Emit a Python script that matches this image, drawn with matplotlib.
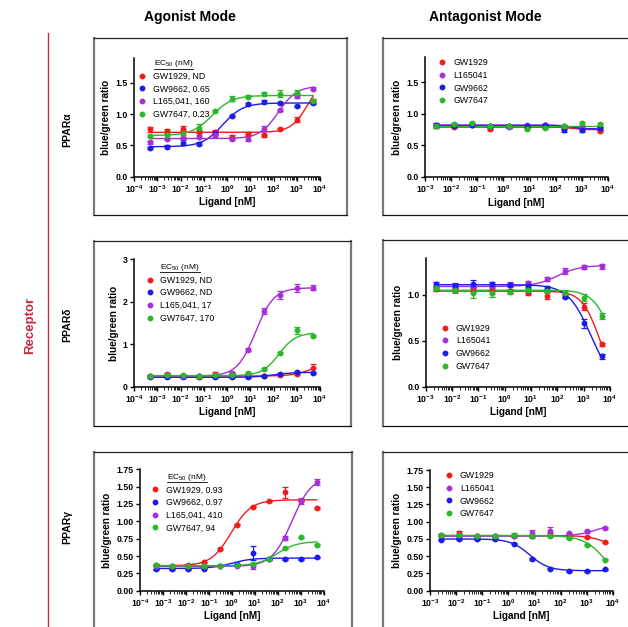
import numpy as np
import matplotlib
matplotlib.use("Agg")
import matplotlib.pyplot as plt
from matplotlib.lines import Line2D
from matplotlib.ticker import LogLocator, FixedLocator, NullFormatter

plt.rcParams["font.family"] = ["Liberation Sans", "DejaVu Sans"]
plt.rcParams["mathtext.fontset"] = "custom"
plt.rcParams["mathtext.rm"] = "Liberation Sans"
plt.rcParams["mathtext.bf"] = "Liberation Sans:bold"
plt.rcParams["mathtext.it"] = "Liberation Sans:italic"

# ligand concentrations (nM), 5-fold dilution series
conc_ag = [5.12e-4, 2.56e-3, 0.0128, 0.064, 0.32, 1.6, 8, 40, 200, 1000, 5000]
conc_antag = [2.56e-3, 0.0128, 0.064, 0.32, 1.6, 8, 40, 200, 1000, 5000]

colors = {"GW1929": "#f01c1c", "GW9662": "#1c1ce8", "L165041": "#a62ed8", "GW7647": "#2ab82a"}

# ---- PPARa agonist ----
a_ag_labels = ["GW1929, ND", "GW9662, 0.65", "L165,041, 160", "GW7647, 0.23"]
a_ag_gw1929 = [0.76, 0.73, 0.77, 0.72, 0.72, 0.64, 0.68, 0.66, 0.76, 0.91, 1.21]
a_ag_gw9662 = [0.46, 0.48, 0.54, 0.53, 0.70, 0.97, 1.16, 1.20, 1.18, 1.13, 1.18]
a_ag_l165 = [0.55, 0.60, 0.62, 0.64, 0.66, 0.61, 0.61, 0.77, 1.07, 1.29, 1.41]
a_ag_gw7647 = [0.65, 0.66, 0.70, 0.78, 1.05, 1.25, 1.28, 1.33, 1.33, 1.34, 1.21]
a_ag_err = [[0.04, 0.04, 0.04, 0.02, 0.02, 0.03, 0.02, 0.02, 0.02, 0.04, 0.03],
            [0.02, 0.02, 0.04, 0.02, 0.03, 0.02, 0.02, 0.02, 0.02, 0.02, 0.02],
            [0.02, 0.02, 0.02, 0.02, 0.02, 0.02, 0.04, 0.04, 0.02, 0.03, 0.02],
            [0.02, 0.04, 0.04, 0.07, 0.02, 0.04, 0.02, 0.02, 0.06, 0.04, 0.04]]
a_ag_fit = [(0.71, 1.60, 3000, 1.2), (0.48, 1.18, 0.65, 1.0),
            (0.61, 1.45, 160, 1.1), (0.66, 1.30, 0.23, 1.0)]

# ---- PPARa antagonist ----
a_an_labels = ["GW1929", "L165041", "GW9662", "GW7647"]
a_an_gw1929 = [0.80, 0.79, 0.82, 0.76, 0.80, 0.79, 0.79, 0.79, 0.77, 0.73]
a_an_l165 = [0.82, 0.83, 0.83, 0.81, 0.79, 0.82, 0.82, 0.81, 0.77, 0.77]
a_an_gw9662 = [0.83, 0.81, 0.82, 0.81, 0.80, 0.81, 0.82, 0.74, 0.75, 0.77]
a_an_gw7647 = [0.80, 0.84, 0.85, 0.80, 0.81, 0.76, 0.78, 0.80, 0.85, 0.84]
a_an_err = [[0.02] * 10, [0.02] * 10, [0.03, 0.02, 0.02, 0.02, 0.02, 0.02, 0.02, 0.02, 0.03, 0.02], [0.02] * 10]
a_an_fit = [(0.79, 0.75, 400, 2.0), (0.82, 0.76, 400, 2.0),
            (0.82, 0.76, 400, 2.0), (0.81, 0.81, 1, 1.0)]

# ---- PPARd agonist ----
d_ag_labels = ["GW1929, ND", "GW9662, ND", "L165,041, 17", "GW7647, 170"]
d_ag_gw1929 = [0.26, 0.30, 0.26, 0.25, 0.31, 0.30, 0.27, 0.26, 0.27, 0.30, 0.44]
d_ag_gw9662 = [0.23, 0.23, 0.22, 0.23, 0.22, 0.23, 0.22, 0.25, 0.31, 0.35, 0.32]
d_ag_l165 = [0.25, 0.27, 0.26, 0.26, 0.28, 0.33, 0.87, 1.78, 2.16, 2.33, 2.33]
d_ag_gw7647 = [0.26, 0.27, 0.27, 0.26, 0.27, 0.27, 0.33, 0.42, 0.79, 1.33, 1.19]
d_ag_err = [[0.02, 0.03, 0.02, 0.02, 0.03, 0.02, 0.02, 0.02, 0.02, 0.02, 0.09],
            [0.02] * 11,
            [0.02, 0.02, 0.02, 0.02, 0.02, 0.02, 0.03, 0.07, 0.09, 0.09, 0.06],
            [0.02, 0.02, 0.02, 0.02, 0.02, 0.02, 0.02, 0.02, 0.03, 0.08, 0.03]]
d_ag_fit = [(0.25, 0.60, 5000, 1.0), (0.22, 0.34, 100, 1.0),
            (0.25, 2.33, 17, 1.1), (0.26, 1.27, 170, 1.2)]

# ---- PPARd antagonist ----
d_an_labels = ["GW1929", "L165041", "GW9662", "GW7647"]
d_an_gw1929 = [1.06, 1.05, 1.05, 1.04, 1.04, 1.02, 0.99, 0.99, 0.87, 0.46]
d_an_l165 = [1.08, 1.09, 1.10, 1.10, 1.11, 1.13, 1.17, 1.26, 1.30, 1.31]
d_an_gw9662 = [1.12, 1.10, 1.12, 1.12, 1.11, 1.10, 1.07, 0.98, 0.69, 0.33]
d_an_gw7647 = [1.07, 1.05, 1.02, 1.02, 1.03, 1.05, 1.04, 1.02, 0.97, 0.77]
d_an_err = [[0.02, 0.02, 0.02, 0.03, 0.02, 0.02, 0.04, 0.02, 0.04, 0.02],
            [0.02, 0.02, 0.02, 0.02, 0.03, 0.02, 0.02, 0.03, 0.02, 0.03],
            [0.02, 0.03, 0.04, 0.02, 0.02, 0.03, 0.02, 0.02, 0.05, 0.03],
            [0.02, 0.03, 0.05, 0.04, 0.02, 0.03, 0.02, 0.03, 0.04, 0.03]]
d_an_fit = [(1.04, 0.0, 4000, 1.3), (1.09, 1.32, 100, 1.0),
            (1.11, 0.0, 1900, 1.0), (1.05, 0.0, 13000, 1.2)]

# ---- PPARg agonist ----
g_ag_labels = ["GW1929, 0.93", "GW9662, 0.97", "L165,041, 410", "GW7647, 94"]
g_ag_gw1929 = [0.37, 0.36, 0.37, 0.41, 0.60, 0.95, 1.21, 1.29, 1.42, 1.30, 1.19]
g_ag_gw9662 = [0.31, 0.31, 0.31, 0.32, 0.36, 0.38, 0.54, 0.45, 0.45, 0.45, 0.48]
g_ag_l165 = [0.36, 0.36, 0.36, 0.36, 0.36, 0.36, 0.35, 0.45, 0.76, 1.29, 1.57]
g_ag_gw7647 = [0.37, 0.36, 0.36, 0.36, 0.36, 0.37, 0.39, 0.45, 0.61, 0.77, 0.66]
g_ag_err = [[0.01, 0.01, 0.01, 0.01, 0.01, 0.01, 0.01, 0.01, 0.08, 0.01, 0.01],
            [0.01, 0.01, 0.01, 0.01, 0.01, 0.01, 0.10, 0.01, 0.01, 0.01, 0.01],
            [0.01, 0.01, 0.01, 0.01, 0.01, 0.01, 0.03, 0.01, 0.03, 0.04, 0.04],
            [0.01] * 11]
g_ag_fit = [(0.36, 1.31, 0.93, 1.0), (0.32, 0.47, 0.97, 1.0),
            (0.35, 1.65, 410, 1.0), (0.36, 0.71, 94, 1.0)]

# ---- PPARg antagonist ----
g_an_labels = ["GW1929", "L165041", "GW9662", "GW7647"]
g_an_gw1929 = [0.81, 0.83, 0.80, 0.80, 0.80, 0.80, 0.82, 0.80, 0.78, 0.70]
g_an_l165 = [0.80, 0.79, 0.79, 0.79, 0.80, 0.83, 0.86, 0.83, 0.86, 0.91]
g_an_gw9662 = [0.74, 0.75, 0.75, 0.75, 0.68, 0.46, 0.32, 0.28, 0.28, 0.31]
g_an_gw7647 = [0.81, 0.81, 0.80, 0.80, 0.81, 0.79, 0.79, 0.76, 0.66, 0.45]
g_an_err = [[0.01, 0.04, 0.01, 0.01, 0.01, 0.01, 0.02, 0.01, 0.01, 0.01],
            [0.01, 0.01, 0.01, 0.01, 0.01, 0.05, 0.06, 0.01, 0.02, 0.01],
            [0.01, 0.02, 0.02, 0.01, 0.01, 0.01, 0.01, 0.01, 0.01, 0.01],
            [0.01, 0.01, 0.01, 0.01, 0.03, 0.02, 0.01, 0.01, 0.01, 0.01]]
g_an_fit = [(0.80, 0.0, 35000, 1.0), (0.79, 1.0, 3000, 1.0),
            (0.75, 0.29, 6.5, 1.2), (0.80, 0.0, 6400, 1.0)]

W, H = 628, 627
fig = plt.figure(figsize=(W / 100, H / 100), dpi=100)


def px_rect(left, top, right, bottom):
    return [left / W, 1 - bottom / H, (right - left) / W, (bottom - top) / H]


def sigmoid(x, start, end, mid, hill):
    return start + (end - start) / (1 + (mid / x) ** hill)


def draw_frame(left, top, right, bottom):
    x0, x1 = left / W, right / W
    y0, y1 = 1 - bottom / H, 1 - top / H
    fig.add_artist(Line2D([x0, x0], [y0, y1], color="#777777", lw=1.6, transform=fig.transFigure))
    fig.add_artist(Line2D([x1, x1], [y0, y1], color="#777777", lw=1.6, transform=fig.transFigure))
    fig.add_artist(Line2D([x0, x1], [y1, y1], color="#222222", lw=0.9, transform=fig.transFigure))
    fig.add_artist(Line2D([x0, x1], [y0, y0], color="#111111", lw=0.9, transform=fig.transFigure))


def panel(rect, conc, series, errs, fits, names, labels, xmin, ylim, yticks, yfmt,
          leg_anchor, leg_title=None):
    ax = fig.add_axes(rect)
    xs = np.logspace(np.log10(conc[0]), np.log10(conc[-1]), 300)
    for ys, er, fp, nm in zip(series, errs, fits, names):
        c = colors[nm]
        ax.plot(xs, sigmoid(xs, *fp), color=c, lw=1.0)
        ax.errorbar(conc, ys, yerr=er, fmt="o", ms=3.2, color=c, ecolor=c,
                    elinewidth=0.9, capsize=2.2, capthick=0.9)
    ax.set_xscale("log")
    ax.set_xlim(xmin, 1e4)
    ax.set_ylim(*ylim)
    decades = np.arange(int(np.log10(xmin)), 5)
    ax.xaxis.set_major_locator(FixedLocator(10.0 ** decades))
    ax.set_xticklabels([r"$\mathbf{10^{%d}}$" % d for d in decades])
    ax.xaxis.set_minor_locator(LogLocator(base=10, subs=np.arange(2, 10), numticks=20))
    ax.xaxis.set_minor_formatter(NullFormatter())
    ax.set_yticks(yticks)
    ax.set_yticklabels([yfmt % v for v in yticks])
    for s in ["top", "right"]:
        ax.spines[s].set_visible(False)
    for s in ["left", "bottom"]:
        ax.spines[s].set_linewidth(1.1)
    ax.tick_params(axis="both", which="major", direction="out", length=3, width=1.0,
                   labelsize=6.3, pad=1.5)
    ax.tick_params(axis="x", which="minor", direction="out", length=1.8, width=0.6)
    for t in ax.get_yticklabels():
        t.set_fontweight("bold")
    ax.set_xlabel("Ligand [nM]", fontsize=7.2, fontweight="bold", labelpad=2)
    ax.set_ylabel("blue/green ratio", fontsize=7.2, fontweight="bold", labelpad=3)
    handles = [Line2D([], [], marker="o", ls="none", ms=3.2, color=colors[n]) for n in names]
    leg = ax.legend(handles, labels, loc="upper left", bbox_to_anchor=leg_anchor,
                    frameon=False, fontsize=6.3, handlelength=1.0, handletextpad=0.75,
                    labelspacing=0.42, borderaxespad=0, borderpad=0,
                    title=leg_title, title_fontsize=6.0)
    if leg_title:
        leg._legend_box.align = "center"
        leg._legend_box.sep = 2
    return ax, leg


names_ab = ["GW1929", "GW9662", "L165041", "GW7647"]
names_ba = ["GW1929", "L165041", "GW9662", "GW7647"]
ec_title = r"EC$_{50}$ (nM)"

legs = []
_, l1 = panel(px_rect(134, 58, 320, 176.7), conc_ag,
              [a_ag_gw1929, a_ag_gw9662, a_ag_l165, a_ag_gw7647], a_ag_err, a_ag_fit,
              names_ab, a_ag_labels, 1e-4, (0, 1.9), [0, 0.5, 1.0, 1.5], "%.1f",
              (0.02, 1.0), ec_title)
legs.append(l1)
panel(px_rect(425, 57, 608, 177), conc_antag,
      [a_an_gw1929, a_an_l165, a_an_gw9662, a_an_gw7647], a_an_err, a_an_fit,
      names_ba, a_an_labels, 1e-3, (0, 1.9), [0, 0.5, 1.0, 1.5], "%.1f",
      (0.07, 0.99))
_, l3 = panel(px_rect(134, 259.3, 320, 386.7), conc_ag,
              [d_ag_gw1929, d_ag_gw9662, d_ag_l165, d_ag_gw7647], d_ag_err, d_ag_fit,
              names_ab, d_ag_labels, 1e-4, (0, 3), [0, 1, 2, 3], "%d",
              (0.06, 0.98), ec_title)
legs.append(l3)
panel(px_rect(425.7, 258, 610, 386.7), conc_antag,
      [d_an_gw1929, d_an_l165, d_an_gw9662, d_an_gw7647], d_an_err, d_an_fit,
      names_ba, d_an_labels, 1e-3, (0, 1.4), [0, 0.5, 1.0], "%.1f",
      (0.08, 0.49))
_, l5 = panel(px_rect(140, 469.3, 323.7, 590.7), conc_ag,
              [g_ag_gw1929, g_ag_gw9662, g_ag_l165, g_ag_gw7647], g_ag_err, g_ag_fit,
              names_ab, g_ag_labels, 1e-4, (0, 1.75), [0, 0.25, 0.5, 0.75, 1.0, 1.25, 1.5, 1.75], "%.2f",
              (0.06, 0.98), ec_title)
legs.append(l5)
panel(px_rect(430, 470, 613, 590.7), conc_antag,
      [g_an_gw1929, g_an_l165, g_an_gw9662, g_an_gw7647], g_an_err, g_an_fit,
      names_ba, g_an_labels, 1e-3, (0, 1.75), [0, 0.25, 0.5, 0.75, 1.0, 1.25, 1.5, 1.75], "%.2f",
      (0.08, 0.99))

# panel frames
draw_frame(94, 38, 347, 215)
draw_frame(383, 38, 632, 215)
draw_frame(94, 241, 351, 426)
draw_frame(383, 240, 632, 426)
draw_frame(94, 452, 352, 632)
draw_frame(383, 452, 632, 632)

# column headers and row labels
fig.text(190 / W, 1 - 17 / H, "Agonist Mode", ha="center", va="center", fontsize=10, fontweight="bold")
fig.text(485 / W, 1 - 17 / H, "Antagonist Mode", ha="center", va="center", fontsize=10, fontweight="bold")
for lab, yp in [("PPARα", 130), ("PPARδ", 325), ("PPARγ", 527)]:
    fig.text(67 / W, 1 - yp / H, lab, ha="center", va="center", rotation=90,
             fontsize=7.5, fontweight="bold")
fig.text(30 / W, 1 - 325 / H, "Receptor", ha="center", va="center", rotation=90,
         fontsize=9.5, fontweight="bold", color="#c8283e")
fig.add_artist(Line2D([48 / W, 48 / W], [0, 1 - 33 / H], color="#c8283e", lw=1.0,
                      transform=fig.transFigure))

# underline the EC50 legend titles
fig.canvas.draw()
rend = fig.canvas.get_renderer()
for lg in legs:
    bb = lg.get_title().get_window_extent(rend)
    fig.add_artist(Line2D([bb.x0 / W, bb.x1 / W], [(bb.y0 + 0.5) / H, (bb.y0 + 0.5) / H],
                          color="black", lw=0.6, transform=fig.transFigure))

fig.savefig("out.png", dpi=100)
